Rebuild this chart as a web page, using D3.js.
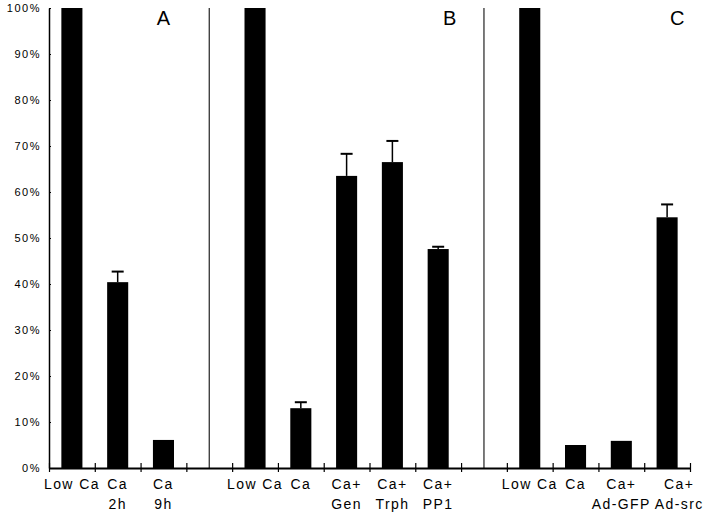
<!DOCTYPE html>
<html>
<head>
<meta charset="utf-8">
<script src="https://cdn.jsdelivr.net/npm/d3@7"></script>
<style>
  body { margin: 0; background: #fff; }
  svg { display: block; }
  text { font-family: "Liberation Sans", Arial, sans-serif; fill: #000; }
</style>
</head>
<body>
<div id="chart"></div>
<script>
// 14 slots along the x axis (two empty ones hold the panel separators)
const labels = [
  ["Low Ca"], ["Ca", "2h"], ["Ca", "9h"], [],
  ["Low Ca"], ["Ca"], ["Ca+", "Gen"], ["Ca+", "Trph"], ["Ca+", "PP1"], [],
  ["Low Ca"], ["Ca"], ["Ca+", "Ad-GFP"], ["Ca+", "Ad-src"]
];
const values = [100, 40.4, 6.1, null, 100, 13.0, 63.5, 66.5, 47.6, null, 100, 5.0, 5.9, 54.5];
const errors = [0, 2.3, 0, null, 0, 1.3, 4.8, 4.6, 0.5, null, 0, 0, 0, 2.8];
const separators = [3, 9];          // slot index of the empty slots
const panels = ["A", "B", "C"];
const panelPos = [2.5, 8.75, 13.72];   // in slot units
const yTicks = [0, 10, 20, 30, 40, 50, 60, 70, 80, 90, 100];

const W = 720, H = 515;
const margin = { top: 8, right: 30, bottom: 47, left: 49 };
const plotW = 641;
const plotH = H - margin.top - margin.bottom;

const svg = d3.select("#chart").append("svg")
  .attr("width", W)
  .attr("height", H);

const g = svg.append("g")
  .attr("transform", `translate(${margin.left},${margin.top})`);

const idx = d3.range(labels.length);

// band scale for bars, linear scale for slot boundaries
const x = d3.scaleBand()
  .domain(idx)
  .range([0, plotW])
  .paddingInner(0.54)
  .paddingOuter(0.27);

const xs = d3.scaleLinear()
  .domain([0, labels.length])
  .range([0, plotW]);

const y = d3.scaleLinear()
  .domain([0, 100])
  .range([plotH, 0]);

// panel separators
g.selectAll(".sep")
  .data(separators)
  .enter().append("line")
    .attr("x1", d => xs(d + 0.5))
    .attr("x2", d => xs(d + 0.5))
    .attr("y1", y(100))
    .attr("y2", y(0))
    .attr("stroke", "#222")
    .attr("stroke-width", 1.2);

// bars
const barData = idx.filter(i => values[i] != null);

g.selectAll(".bar")
  .data(barData)
  .enter().append("rect")
    .attr("x", i => x(i))
    .attr("width", x.bandwidth())
    .attr("y", i => y(values[i]))
    .attr("height", i => y(0) - y(values[i]))
    .attr("fill", "#000");

// error bars (upper only)
const errData = barData.filter(i => errors[i] > 0);

g.selectAll(".err")
  .data(errData)
  .enter().append("line")
    .attr("x1", i => x(i) + x.bandwidth() / 2)
    .attr("x2", i => x(i) + x.bandwidth() / 2)
    .attr("y1", i => y(values[i]))
    .attr("y2", i => y(values[i] + errors[i]))
    .attr("stroke", "#000")
    .attr("stroke-width", 1.5);

g.selectAll(".cap")
  .data(errData)
  .enter().append("line")
    .attr("x1", i => x(i) + x.bandwidth() / 2 - 6)
    .attr("x2", i => x(i) + x.bandwidth() / 2 + 6)
    .attr("y1", i => y(values[i] + errors[i]))
    .attr("y2", i => y(values[i] + errors[i]))
    .attr("stroke", "#000")
    .attr("stroke-width", 2);

// y axis
const yAxis = g.append("g")
  .call(d3.axisLeft(y)
    .tickValues(yTicks)
    .tickFormat(d => d + "%")
    .tickSizeInner(5)
    .tickSizeOuter(0)
    .tickPadding(5));
yAxis.select(".domain").attr("stroke-width", 1.5);
yAxis.selectAll(".tick line").attr("x2", 2).attr("stroke-width", 1.2);
yAxis.selectAll(".tick text")
  .style("font-family", "'Liberation Sans', Arial, sans-serif")
  .style("font-size", "11px")
  .style("letter-spacing", "1.5px")
  .attr("x", -8);

// x axis with ticks at slot boundaries
const xAxis = g.append("g")
  .attr("transform", `translate(0,${plotH})`)
  .call(d3.axisBottom(xs)
    .tickValues(d3.range(labels.length + 1))
    .tickFormat("")
    .tickSizeInner(4)
    .tickSizeOuter(0));
xAxis.select(".domain").attr("stroke-width", 1.8);
xAxis.selectAll(".tick line").attr("y1", -5).attr("stroke-width", 1.2);

// category labels
const lab = g.selectAll(".lab")
  .data(idx.filter(i => labels[i].length))
  .enter().append("text")
    .attr("x", i => x(i) + x.bandwidth() / 2)
    .attr("y", plotH + 21)
    .attr("text-anchor", "middle")
    .style("font-size", "14px")
    .style("letter-spacing", "1.4px");

lab.selectAll("tspan")
  .data(i => labels[i])
  .enter().append("tspan")
    .attr("x", function() { return d3.select(this.parentNode).attr("x"); })
    .attr("dy", (d, k) => k === 0 ? 0 : 20)
    .text(d => d);

// push a label right when it runs into the one on its left
let prevRight = -Infinity;
lab.each(function() {
  const b = this.getBBox();
  const shift = Math.max(0, prevRight + 4 - b.x);
  if (shift > 0) d3.select(this).attr("transform", `translate(${shift},0)`);
  prevRight = b.x + b.width + shift;
});

// panel letters
g.selectAll(".panel")
  .data(panels)
  .enter().append("text")
    .attr("x", (d, k) => xs(panelPos[k]))
    .attr("y", 17)
    .attr("text-anchor", "middle")
    .style("font-size", "20px")
    .text(d => d);
</script>
</body>
</html>
